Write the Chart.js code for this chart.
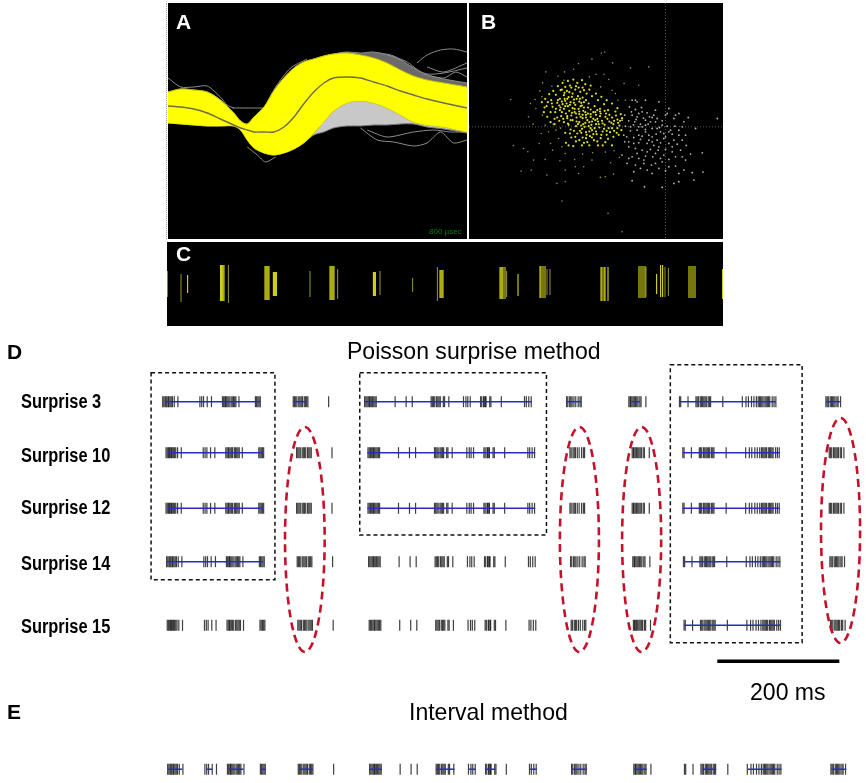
<!DOCTYPE html>
<html>
<head>
<meta charset="utf-8">
<title>Spike sorting and burst detection</title>
<script src="https://cdn.jsdelivr.net/npm/chart.js@4/dist/chart.umd.min.js"></script>
<style>
    html, body { margin: 0; padding: 0; background: #fff; }
    body { position: relative; width: 866px; height: 783px; overflow: hidden; font-family: "Liberation Sans", Arial, sans-serif; }
    canvas { position: absolute; filter: blur(0.35px); }
    .panel { background: #000; }
    #waveChart { left: 168px; top: 3px; }
    #clusterChart { left: 469px; top: 3px; }
    #rasterChart { left: 167px; top: 242px; }
    #burstChart { left: 0; top: 335px; }
    #waveEdge { position: absolute; left: 166px; top: 3px; height: 236px; border-left: 1px dotted #999; }
    .txt { position: absolute; white-space: nowrap; line-height: 1; color: #000; transform-origin: left center; }
    .letter { font-weight: bold; font-size: 21px; }
    .white { color: #fff; }
    .title { font-size: 24px; transform: scaleX(0.96); }
    .row { font-weight: bold; font-size: 20px; left: 21px; transform: scaleX(0.82); }
</style>
</head>
<body>
<canvas id="waveChart" class="panel" width="299" height="236"></canvas>
<canvas id="clusterChart" class="panel" width="254" height="236"></canvas>
<canvas id="rasterChart" class="panel" width="556" height="84"></canvas>
<canvas id="burstChart" width="866" height="448"></canvas>
<div id="waveEdge"></div>

<div class="txt letter white" style="left:176px;top:11px">A</div>
<div class="txt letter white" style="left:481px;top:11px">B</div>
<div class="txt letter white" style="left:176px;top:243px">C</div>
<div class="txt" style="left:429px;top:228px;font-size:8px;color:#0b7a12">800 µsec</div>

<div class="txt letter" style="left:7px;top:341px">D</div>
<div class="txt title" style="left:347px;top:339px">Poisson surprise method</div>
<div class="txt row" style="top:391px">Surprise 3</div>
<div class="txt row" style="top:445px">Surprise 10</div>
<div class="txt row" style="top:497px">Surprise 12</div>
<div class="txt row" style="top:553px">Surprise 14</div>
<div class="txt row" style="top:616px">Surprise 15</div>
<div class="txt title" style="left:750px;top:680px">200 ms</div>
<div class="txt letter" style="left:7px;top:701px">E</div>
<div class="txt title" style="left:409px;top:700px">Interval method</div>

<script>
// Panel A - waveforms (time in usec, amplitude in arbitrary units)
const waveTimes = [0, 34, 69, 105, 140, 176, 194, 212, 230, 257, 283, 310, 337, 363, 390, 417, 443, 479, 515, 550, 586, 622, 657, 693, 738, 800];
const yellowUpper = [28, 31, 30, 28, 20, 7, -1, -4, 3, 13, 29, 42, 52, 58, 61, 64, 66, 67, 65, 62, 57, 50, 44, 40, 37, 33];
const yellowLower = [-3, -4, -5, -6, -6, -6, -10, -20, -28, -33, -35, -33, -29, -23, -13, -2, 9, 17, 19, 17, 12, 5, -2, -5, -7, -12];
const meanTrace = [14, 13, 11, 7, 1, -5, -8, -10, -12, -12, -12, -7, 3, 16, 28, 37, 42, 43, 42, 38, 34, 29, 25, 21, 17, 12];
const greyUpper = [28, 31, 30, 28, 20, 7, -1, -4, 3, 13, 29, 42, 52, 58, 61, 64, 66, 68, 67, 68, 65, 60, 52, 45, 41, 37];
const greyLower = [-3, -4, -5, -6, -6, -6, -10, -20, -28, -33, -35, -33, -29, -23, -15, -12, -8, -6, -6, -5, -5, -4, -4, -7, -9, -13];
const outlierTraces = [
    [[666, 57], [693, 65], [729, 70], [764, 71], [800, 68]],
    [[693, 53], [738, 48], [800, 57]],
    [[515, -8], [560, -20], [604, -22], [657, -26], [693, -23], [729, -12], [764, -23], [800, -20]],
    [[533, -10], [586, -17], [657, -12], [711, -10], [756, -12], [800, -12]],
    [[0, 42], [34, 33], [69, 33], [105, 34], [140, 23], [158, 15], [176, 12]],
    [[212, -27], [239, -35], [261, -42], [288, -37]],
    [[230, -2], [257, 12], [288, 33], [328, 52], [372, 61]],
    [[172, 12], [257, 12]],
    [[515, 66], [560, 67], [604, 64], [657, 52], [693, 46], [738, 47], [800, 52]],
    [[586, 66], [640, 58], [680, 47], [738, 42], [770, 48], [800, 43]]
];

// Panel B - cluster plot (feature 1, feature 2)
const yellowCore = [[318,262],[330,268],[305,272],[345,275],[322,280],[296,285],[338,288],[310,291],[352,292],[284,296],[326,298],[300,302],[342,304],[362,300],[316,306],[276,308],[292,312],[330,314],[350,316],[308,318],[244,318],[262,320],[322,324],[340,326],[296,326],[368,322],[284,330],[312,332],[354,332],[328,336],[270,336],[384,336],[302,340],[342,342],[392,344],[318,346],[362,344],[406,340],[288,348],[376,350],[334,352],[420,350],[352,354],[306,354],[396,356],[268,356],[440,352],[322,360],[366,360],[410,362],[380,364],[342,366],[432,364],[296,366],[456,358],[354,372],[392,372],[418,374],[310,374],[444,372],[370,378],[332,378],[402,382],[462,376],[350,386],[430,384],[380,390],[316,388],[412,394],[446,392],[362,396],[394,402],[300,398],[336,400],[424,404],[374,408],[352,412],[318,412],[406,414],[444,410],[386,420],[332,424],[302,428],[366,426],[420,426],[350,436],[440,436],[398,436],[314,256],[300,260],[352,262],[336,248],[350,240],[360,252],[372,268],[286,270],[272,284],[258,300],[248,306],[238,322],[256,336],[282,316],[298,296],[326,308],[344,296],[370,310],[388,318],[404,326],[428,330],[450,334],[466,342],[416,312],[398,300],[380,288],[364,280],[346,318],[332,340],[316,360],[338,372],[360,336],[376,328],[356,306],[304,310],[290,336],[276,352],[308,370],[388,384],[404,348],[422,340],[438,368],[456,384],[464,362],[452,346],[372,394],[348,398],[326,392],[362,414],[384,402],[400,372],[416,386],[434,396],[346,350],[360,368],[378,374],[396,330],[368,340],[352,344],[390,360],[290,268],[312,276],[332,258],[298,278],[340,262],[356,270],[278,300],[290,304],[306,296],[320,290],[334,296],[348,308],[314,314],[300,318],[286,322],[328,326],[342,334],[356,322],[272,326],[260,310],[320,338],[306,348],[294,356],[282,362],[334,364],[348,376],[362,352],[376,342],[390,336],[404,334],[418,332],[432,344],[446,362],[458,368],[426,356],[412,370],[398,364],[384,356],[372,366],[358,380],[344,392],[330,410],[314,400],[376,384],[392,394],[408,404],[424,392],[440,384],[454,398],[364,404],[380,412],[396,424],[412,436],[428,416],[342,420],[356,428],[372,436],[310,436],[324,438],[268,372],[256,366],[246,350],[236,336],[230,306],[240,296],[252,282],[264,272],[278,258],[292,248],[308,242],[324,238],[376,256],[392,280],[408,290],[424,300],[440,310],[456,324],[470,354],[468,390],[460,404]];
const yellowOuter = [[418,155],[408,158],[380,176],[442,188],[340,190],[325,207],[242,215],[298,215],[392,222],[278,228],[372,230],[416,222],[430,238],[232,248],[296,240],[260,258],[406,260],[224,272],[440,270],[210,298],[196,310],[230,290],[137,298],[212,325],[190,350],[232,345],[204,372],[228,400],[250,395],[272,390],[145,436],[175,445],[188,455],[222,430],[256,430],[290,440],[262,450],[205,480],[240,478],[168,513],[198,510],[284,482],[328,478],[300,460],[352,462],[382,458],[420,456],[446,452],[245,525],[300,510],[340,520],[330,500],[275,550],[300,545],[405,532],[420,530],[444,522],[290,603],[428,640],[470,695],[462,472],[436,488],[380,480],[355,500],[280,415],[240,375],[264,372],[286,384],[480,300],[476,250],[520,255],[495,203],[550,200],[450,280],[458,300]];
const greyCluster = [[492,320],[510,328],[528,322],[478,345],[500,345],[520,340],[545,338],[490,362],[512,358],[534,354],[560,352],[480,378],[504,374],[525,372],[548,372],[570,365],[590,362],[610,325],[600,345],[625,355],[640,340],[495,392],[515,390],[540,388],[560,385],[582,382],[605,378],[628,378],[650,380],[690,385],[755,355],[668,352],[484,410],[505,412],[530,408],[550,405],[572,402],[595,400],[620,402],[640,405],[520,428],[545,430],[565,436],[585,428],[610,430],[635,432],[662,436],[490,440],[510,445],[530,450],[555,448],[578,450],[600,448],[620,455],[645,450],[710,458],[675,462],[500,470],[520,475],[540,468],[562,470],[585,475],[610,478],[630,470],[660,480],[485,490],[510,495],[535,490],[558,495],[580,505],[600,512],[630,498],[655,510],[680,518],[712,516],[505,515],[545,510],[500,542],[537,560],[590,562],[625,550],[640,545],[685,540],[470,465],[478,425],[515,305],[540,300],[580,305],[605,340],[570,330],[500,300],[470,360],[530,380],[550,420],[575,385],[595,415],[615,390],[565,345],[540,360],[520,405],[498,335],[515,350],[530,335],[552,350],[508,365],[520,380],[495,380],[540,375],[555,365],[575,355],[585,395],[560,410],[540,395],[525,418],[505,430],[490,425],[560,425],[580,440],[600,410],[625,420],[610,395],[575,420],[590,375],[650,420],[640,390],[660,405],[515,460],[545,455],[570,460],[595,465],[620,440],[650,470],[490,475],[535,480],[610,500],[570,490],[590,485],[640,520],[475,405],[560,520],[525,505],[655,365],[630,345],[510,300]];
const crossFeature1 = 600;
const crossFeature2 = 380;

// Panel C - spike raster: [time ms, half height, centre]
const brightSpikes = [[103,9,3],[268,18,4],[272,18,4],[276,18,4],[280,18,4],[285,18,4],[490,17,4],[495,17,4],[500,17,4],[505,17,4],[510,17,4],[532,12,3],[537,12,3],[542,12,3],[547,12,3],[815,17,4],[820,17,4],[825,17,4],[830,17,4],[835,17,4],[1032,12,3],[1037,12,3],[1042,12,3],[1365,14,3],[1370,14,3],[1375,14,3],[1380,14,3],[1665,16,4],[1670,16,4],[1675,16,4],[1680,16,4],[1690,16,4],[1755,11,2],[1865,16,5],[1870,16,5],[1880,16,5],[1890,16,5],[2170,17,3],[2175,17,3],[2185,17,3],[2190,17,3],[2205,17,3],[2360,16,5],[2370,16,5],[2380,16,5],[2390,16,5],[2448,10,3],[2468,16,6],[2478,16,6],[2610,16,5],[2620,16,5],[2630,16,5],[2640,16,5],[2778,15,3]];
const dimSpikes = [[2,13,3],[70,14,-1],[307,19,3],[715,13,3],[853,15,3],[1065,12,4],[1228,7,2],[1352,17,3],[1698,13,3],[1900,13,5],[1915,13,5],[2395,15,5],[2490,15,5],[2507,14,5]];

// Panels D and E - one spike train, blue bars are detected bursts (ms)
const spikeTimes = [0, 2, 4, 5.5, 7, 9, 10, 12, 14, 16, 19, 25, 61, 64, 67, 73, 80, 98, 100, 102, 103, 105, 107, 109, 112, 114, 116, 118, 120, 125, 152, 154, 156, 158, 160, 214, 216, 218, 220, 223, 225, 227, 229, 232, 234, 236, 238, 272, 331, 333, 335, 337, 339, 340, 342, 344, 346, 348, 350, 381, 399, 409, 440, 442, 444, 446, 449, 451, 453, 455, 460, 462, 469, 493, 497, 500, 504, 521, 523, 526, 527, 529, 530, 536, 538, 555, 593, 596, 600, 604, 662, 664, 667, 669, 671, 674, 677, 681, 684, 686, 764, 766, 767, 769, 771, 773, 775, 777, 779, 782, 784, 792, 847, 849, 861, 874, 876, 878, 881, 883, 885, 887, 889, 891, 894, 896, 898, 918, 950, 956, 960, 965, 969, 973, 976, 978, 980, 982, 984, 987, 989, 991, 993, 995, 999, 1002, 1005, 1087, 1089, 1091, 1094, 1096, 1098, 1100, 1102, 1105, 1107, 1111];
const rowLevels = [0, 51, 106.6, 160, 223.6, 367.5];
const rowShifts = [0, 5.5, 5.5, 6.5, 7.5, 8.2];
const burstsByRow = [
    [[4, 160], [214, 236], [331, 605], [662, 686], [768, 782], [847, 1005], [1087, 1111]],
    [[3, 158], [330, 605], [847, 1006]],
    [[3, 158], [330, 605], [847, 1006]],
    [[0, 158], [847, 1006]],
    [[847, 1006]],
    [[1, 24], [63, 73], [100, 124], [152, 160], [216, 238], [330, 351], [440, 470], [494, 505], [521, 537], [594, 605], [663, 687], [764, 785], [876, 899], [951, 1006], [1088, 1112]]
];
const scaleBar = [909, 1109];
const scaleBarLevel = 259.6;
// [t0, t1, level0, level1]
const selectionBoxes = [[-19, 184, -29, 178], [323, 629, -29, 133.3], [832, 1048, -37, 241]];
// [centre t, half width t, centre level, half height]
const missedOvals = [[233, 32.5, 137.8, 112.5], [683, 32, 137.8, 112.5], [785, 32, 137.8, 112.5], [1111, 32, 128.8, 112.5]];

const hiddenAxes = (xMin, xMax, yMin, yMax, yReverse) => ({
    x: { type: 'linear', display: false, min: xMin, max: xMax },
    y: { type: 'linear', display: false, min: yMin, max: yMax, reverse: !!yReverse }
});
const baseOptions = (scales) => ({
    responsive: false,
    animation: false,
    devicePixelRatio: 1,
    layout: { padding: 0, autoPadding: false },
    events: [],
    plugins: { legend: { display: false }, tooltip: { enabled: false } },
    scales: scales
});
const toPoints = (ys) => ys.map((y, i) => ({ x: waveTimes[i], y: y }));
const pairsToPoints = (pairs) => pairs.map(p => ({ x: p[0], y: p[1] }));

// first dataset ends up on top
const waveDatasets = [
    { data: toPoints(meanTrace), borderColor: '#6f6c45', borderWidth: 1.4, tension: 0.3, pointRadius: 0 },
    { data: toPoints(yellowUpper), borderColor: '#c9c900', backgroundColor: '#ffff00', borderWidth: 1, tension: 0.3, pointRadius: 0, fill: 2 },
    { data: toPoints(yellowLower), borderColor: '#c9c900', borderWidth: 1, tension: 0.3, pointRadius: 0 },
    { data: toPoints(greyUpper), borderColor: '#8a8a8a', backgroundColor: '#6a6a6a', borderWidth: 1, tension: 0.3, pointRadius: 0, fill: 1 },
    { data: toPoints(greyLower), borderColor: '#777', backgroundColor: '#c8c8c8', borderWidth: 1, tension: 0.3, pointRadius: 0, fill: 2 }
];
outlierTraces.forEach(trace => {
    waveDatasets.push({ data: pairsToPoints(trace), borderColor: '#8c8c8c', borderWidth: 1, tension: 0.25, pointRadius: 0 });
});

new Chart(document.getElementById('waveChart'), {
    type: 'line',
    data: { datasets: waveDatasets },
    options: baseOptions(hiddenAxes(0, 800, -119, 117))
});

new Chart(document.getElementById('clusterChart'), {
    type: 'scatter',
    data: {
        datasets: [
            { data: pairsToPoints(yellowCore), pointRadius: 1.1, pointBorderWidth: 0, pointBackgroundColor: '#dcdc22' },
            { data: pairsToPoints(yellowOuter), pointRadius: 0.8, pointBorderWidth: 0, pointBackgroundColor: '#8f8f50' },
            { data: pairsToPoints(greyCluster), pointRadius: 0.9, pointBorderWidth: 0, pointBackgroundColor: '#b4b4b4' },
            { type: 'line', data: [{ x: crossFeature1, y: 8 }, { x: crossFeature1, y: 717 }], borderColor: '#555', borderWidth: 1, borderDash: [1, 2], pointRadius: 0 },
            { type: 'line', data: [{ x: 12, y: crossFeature2 }, { x: 772, y: crossFeature2 }], borderColor: '#555', borderWidth: 1, borderDash: [1, 2], pointRadius: 0 }
        ]
    },
    options: baseOptions(hiddenAxes(12, 772, 8, 717, true))
});

const rasterDataset = (spikes, color) => ({
    data: spikes.map(s => ({ x: s[0], y: s[2] })),
    pointStyle: 'line',
    pointRotation: 90,
    pointRadius: spikes.map(s => s[1]),
    pointBorderColor: color,
    pointBorderWidth: 1.1
});
new Chart(document.getElementById('rasterChart'), {
    type: 'scatter',
    data: { datasets: [rasterDataset(brightSpikes, '#d8d81c'), rasterDataset(dimSpikes, '#8a8a2e')] },
    options: baseOptions(hiddenAxes(0, 2780, -39, 45))
});

// dashed selection boxes and red ovals follow the chart's own scales
const annotationPlugin = {
    id: 'burstAnnotations',
    afterDatasetsDraw(chart) {
        const ctx = chart.ctx;
        const x = chart.scales.x;
        const y = chart.scales.y;
        ctx.save();
        ctx.strokeStyle = '#111';
        ctx.lineWidth = 1.5;
        ctx.setLineDash([4, 3]);
        selectionBoxes.forEach(b => {
            ctx.strokeRect(x.getPixelForValue(b[0]), y.getPixelForValue(b[2]),
                x.getPixelForValue(b[1]) - x.getPixelForValue(b[0]), y.getPixelForValue(b[3]) - y.getPixelForValue(b[2]));
        });
        ctx.strokeStyle = '#c4122a';
        ctx.lineWidth = 2.6;
        ctx.setLineDash([8, 5]);
        missedOvals.forEach(o => {
            const cx = x.getPixelForValue(o[0]);
            const cy = y.getPixelForValue(o[2]);
            const rx = x.getPixelForValue(o[0] + o[1]) - cx;
            const ry = y.getPixelForValue(o[2] + o[3]) - cy;
            ctx.beginPath();
            ctx.ellipse(cx, cy, rx, ry, 0, 0, Math.PI * 2);
            ctx.stroke();
        });
        ctx.restore();
    }
};

const burstDatasets = [];
burstsByRow.forEach((bursts, row) => {
    bursts.forEach(b => {
        burstDatasets.push({
            type: 'line',
            data: [{ x: b[0] + rowShifts[row], y: rowLevels[row] }, { x: b[1] + rowShifts[row], y: rowLevels[row] }],
            borderColor: '#2a2ac4',
            borderWidth: 1.5,
            pointRadius: 0
        });
    });
});
rowLevels.forEach((level, row) => {
    burstDatasets.push({
        data: spikeTimes.map(t => ({ x: t + rowShifts[row], y: level })),
        pointStyle: 'line',
        pointRotation: 90,
        pointRadius: 5.5,
        pointBorderColor: 'rgba(15,15,15,0.8)',
        pointBorderWidth: 1.2
    });
});
burstDatasets.push({
    type: 'line',
    data: [{ x: scaleBar[0], y: scaleBarLevel }, { x: scaleBar[1], y: scaleBarLevel }],
    borderColor: '#000',
    borderWidth: 3.5,
    pointRadius: 0
});

new Chart(document.getElementById('burstChart'), {
    type: 'scatter',
    data: { datasets: burstDatasets },
    options: baseOptions(hiddenAxes(-266.6, 1152.7, -66.7, 381.3, true)),
    plugins: [annotationPlugin]
});
</script>
</body>
</html>
